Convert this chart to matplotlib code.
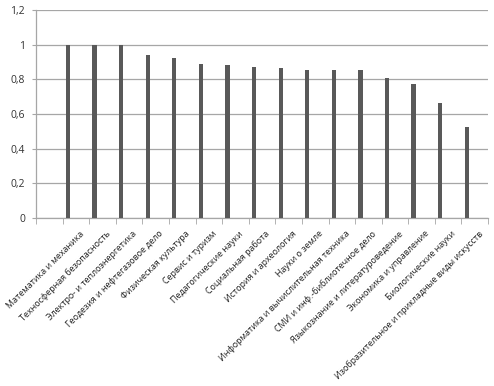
import matplotlib
matplotlib.use("Agg")
import matplotlib.pyplot as plt
import numpy as np

categories = [
    "Математика и механика",
    "Техносферная безопасность",
    "Электро- и теплоэнергетика",
    "Геодезия и нефтегазовое дело",
    "Физическая культура",
    "Сервис и туризм",
    "Педагогические науки",
    "Социальная работа",
    "История и археология",
    "Науки о земле",
    "Информатика и вычислительная техника",
    "СМИ и инф.-библиотечное дело",
    "Языкознание и литературоведение",
    "Экономика и управление",
    "Биологические науки",
    "Изобразительное и прикладные виды искусств",
]
values = [1.0, 1.0, 1.0, 0.94, 0.922, 0.888, 0.882, 0.871, 0.863, 0.855,
          0.857, 0.852, 0.806, 0.771, 0.666, 0.524]
yticks = [0, 0.2, 0.4, 0.6, 0.8, 1.0, 1.2]
ytick_labels = ["0", "0,2", "0,4", "0,6", "0,8", "1", "1,2"]

plt.rcParams['font.family'] = ['Open Sans', 'DejaVu Sans']

fig = plt.figure(figsize=(4.94, 3.86), dpi=100)
ax = fig.add_axes([0.073, 0.435, 0.915, 0.539])

n = len(categories)
x = np.arange(n)
ax.bar(x - 0.3, values, width=0.16, color="#595959", zorder=3)

ax.set_xlim(-1.5, n - 0.5)
ax.set_ylim(0, 1.2)
ax.set_yticks(yticks)
ax.set_yticklabels(ytick_labels, fontsize=7.5, color="#333333")
ax.yaxis.grid(True, color="#a6a6a6", linewidth=0.9, zorder=0)

ax.set_xticks(x + 0.12)
ax.set_xticklabels(categories, rotation=45, ha="right", rotation_mode="anchor",
                   fontsize=6.4, color="#222222")
ax.tick_params(axis="x", length=0, pad=8)
ax.set_xticks(np.arange(-1.5, n), minor=True)
ax.tick_params(axis="x", which="minor", length=4, color="#a6a6a6")
ax.tick_params(axis="y", length=3, color="#a6a6a6", pad=5)

for s in ["top", "right"]:
    ax.spines[s].set_visible(False)
for s in ["left", "bottom"]:
    ax.spines[s].set_color("#a6a6a6")
    ax.spines[s].set_linewidth(0.9)

fig.savefig("out.png", dpi=100)
